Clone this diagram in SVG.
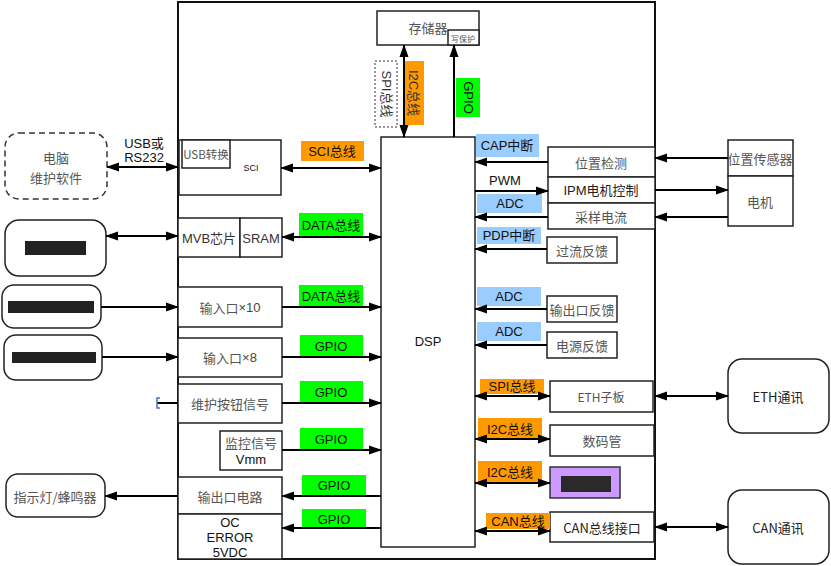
<svg xmlns="http://www.w3.org/2000/svg" width="831" height="566" viewBox="0 0 831 566">
<style>
.b{fill:#fff;stroke:#222;stroke-width:1.5}
.rb{fill:#fff;stroke:#222;stroke-width:1.5}
.c{stroke:#000;stroke-width:2;fill:none}
.cn{font-family:"Noto Sans CJK SC","Liberation Sans",sans-serif;font-size:13px;fill:#555;text-anchor:middle;dominant-baseline:central}
.la{font-family:"Liberation Sans","Noto Sans CJK SC",sans-serif;font-size:13px;fill:#111;text-anchor:middle;dominant-baseline:central}
.or{fill:#ff9900}
.gr{fill:#00ff00}
.bl{fill:#99ccff}
</style>
<defs>
<marker id="ah" markerUnits="userSpaceOnUse" markerWidth="13" markerHeight="10" refX="12" refY="5" orient="auto-start-reverse" viewBox="0 0 13 10">
<path d="M0,0.5 L13,5 L0,9.5 z" fill="#000"/>
</marker>
</defs>
<rect width="831" height="566" fill="#fff"/>

<g id="frame"><rect x="178" y="2" width="477" height="557" fill="none" stroke="#111" stroke-width="2"/></g>

<g id="memory">
<rect class="b" x="377" y="11" width="102" height="34"/>
<text class="cn" x="428" y="27">存储器</text>
<rect class="b" x="448" y="30" width="31" height="15"/>
<text class="cn" x="463" y="38" style="font-size:8px">写保护</text>
</g>

<g id="dsp">
<rect class="b" x="381" y="137" width="94" height="410"/>
<text class="la" x="428" y="341">DSP</text>
</g>

<g id="pc">
<rect x="5" y="133" width="102" height="66" rx="14" fill="#fff" stroke="#333" stroke-width="1.5" stroke-dasharray="6,4"/>
<text class="cn" x="56" y="157">电脑</text>
<text class="cn" x="56" y="177">维护软件</text>
</g>

<g id="sci">
<rect class="b" x="179" y="140" width="102" height="55"/>
<rect class="b" x="182" y="140" width="48" height="28"/>
<text class="cn" x="206" y="154" style="font-size:11.5px">USB转换</text>
<text class="la" x="251" y="168" style="font-size:9px">SCI</text>
</g>

<g id="mvb">
<rect class="b" x="178" y="218" width="62" height="39"/>
<rect class="b" x="240" y="218" width="42" height="39"/>
<text class="la" x="209" y="238" style="fill:#333">MVB芯片</text>
<text class="la" x="261" y="238" style="fill:#333">SRAM</text>
</g>

<g id="ext1">
<rect class="rb" x="5" y="220" width="101" height="56" rx="14"/>
<rect x="25" y="241" width="61" height="14" fill="#222"/>
</g>
<g id="ext2">
<rect class="rb" x="2" y="285" width="99" height="43" rx="12"/>
<rect x="8" y="301" width="86" height="12" fill="#222"/>
</g>
<g id="ext3">
<rect class="rb" x="4" y="335" width="98" height="45" rx="12"/>
<rect x="12" y="352" width="84" height="11" fill="#222"/>
</g>

<g id="in10"><rect class="b" x="178" y="287" width="104" height="40"/><text class="cn" x="230" y="307"><tspan>输入口</tspan><tspan style="font-family:'Liberation Sans',sans-serif;fill:#444">×10</tspan></text></g>
<g id="in8"><rect class="b" x="178" y="338" width="104" height="39"/><text class="cn" x="230" y="357"><tspan>输入口</tspan><tspan style="font-family:'Liberation Sans',sans-serif;fill:#444">×8</tspan></text></g>
<g id="btn"><rect class="b" x="178" y="384" width="104" height="39"/><text class="cn" x="230" y="403">维护按钮信号</text></g>
<g id="mon"><rect class="b" x="220" y="431" width="62" height="39"/><text class="cn" x="251" y="442">监控信号</text><text class="la" x="251" y="459">Vmm</text></g>
<g id="out"><rect class="b" x="178" y="477" width="104" height="37"/><text class="cn" x="230" y="496">输出口电路</text></g>
<g id="oc"><rect class="b" x="178" y="514" width="104" height="45"/><text class="la" x="230" y="522">OC</text><text class="la" x="230" y="537">ERROR</text><text class="la" x="230" y="552">5VDC</text></g>
<g id="lamp"><rect class="rb" x="6" y="474" width="99" height="43" rx="12"/><text class="cn" x="55" y="496">指示灯/蜂鸣器</text></g>

<g id="pos"><rect class="b" x="548" y="147" width="107" height="30"/><text class="cn" x="601" y="162">位置检测</text></g>
<g id="ipm"><rect class="b" x="548" y="177" width="107" height="26"/><text class="la" x="601" y="190" style="fill:#222">IPM电机控制</text></g>
<g id="samp"><rect class="b" x="548" y="203" width="107" height="26"/><text class="cn" x="601" y="216">采样电流</text></g>
<g id="oc2"><rect class="b" x="547" y="237" width="70" height="26"/><text class="cn" x="582" y="250">过流反馈</text></g>
<g id="sensor"><rect class="b" x="728" y="140" width="65" height="36"/><text class="cn" x="760" y="158">位置传感器</text></g>
<g id="motor"><rect class="b" x="728" y="176" width="65" height="50"/><text class="cn" x="760" y="201">电机</text></g>
<g id="outfb"><rect class="b" x="547" y="296" width="70" height="26"/><text class="cn" x="582" y="309">输出口反馈</text></g>
<g id="pwrfb"><rect class="b" x="547" y="332" width="70" height="26"/><text class="cn" x="582" y="345">电源反馈</text></g>
<g id="eth"><rect class="b" x="550" y="381" width="103" height="31"/><text class="cn" x="601" y="396" style="font-size:12px">ETH子板</text></g>
<g id="ethc"><rect class="rb" x="728" y="359" width="101" height="74" rx="14"/><text class="cn" x="778" y="396" style="fill:#222">ETH通讯</text></g>
<g id="led"><rect class="b" x="550" y="425" width="104" height="31"/><text class="cn" x="602" y="440">数码管</text></g>
<g id="disp"><rect x="550" y="467" width="70" height="31" fill="#cc99ff" stroke="#333" stroke-width="1.5"/><rect x="561" y="476" width="50" height="16" fill="#2a2a2a"/></g>
<g id="can"><rect class="b" x="550" y="512" width="104" height="30"/><text class="cn" x="602" y="527" style="fill:#222">CAN总线接口</text></g>
<g id="canc"><rect class="rb" x="728" y="490" width="101" height="74" rx="14"/><text class="cn" x="778" y="527" style="fill:#222">CAN通讯</text></g>

<g id="labels">
<rect x="375" y="61" width="22" height="66" fill="#fff" stroke="#333" stroke-width="1" stroke-dasharray="2,2"/>
<text class="la" transform="translate(386,94) rotate(90)" style="fill:#333">SPI总线</text>
<rect class="or" x="403" y="61" width="21" height="64"/>
<text class="la" transform="translate(413.5,93) rotate(90)" style="fill:#333">I2C总线</text>
<rect class="gr" x="456" y="78" width="24" height="39"/>
<text class="la" transform="translate(468,97.5) rotate(90)">GPIO</text>

<rect class="or" x="301" y="141" width="63" height="20"/><text class="la" x="332" y="151">SCI总线</text>
<rect class="gr" x="299" y="213" width="64" height="24"/><text class="la" x="331" y="225">DATA总线</text>
<rect class="gr" x="299" y="285" width="64" height="22"/><text class="la" x="331" y="296">DATA总线</text>
<rect class="gr" x="300" y="335" width="63" height="22"/><text class="la" x="331" y="346">GPIO</text>
<rect class="gr" x="300" y="381" width="63" height="22"/><text class="la" x="331" y="392">GPIO</text>
<rect class="gr" x="300" y="428" width="63" height="22"/><text class="la" x="331" y="439">GPIO</text>
<rect class="gr" x="302" y="475" width="64" height="20"/><text class="la" x="334" y="485">GPIO</text>
<rect class="gr" x="302" y="509" width="64" height="20"/><text class="la" x="334" y="519">GPIO</text>

<rect class="bl" x="476" y="134" width="63" height="23"/><text class="la" x="507" y="145.5">CAP中断</text>
<text class="la" x="505" y="180">PWM</text>
<rect class="bl" x="477" y="194" width="65" height="19"/><text class="la" x="510" y="203">ADC</text>
<rect class="bl" x="477" y="227" width="64" height="17"/><text class="la" x="509" y="235.5">PDP中断</text>
<rect class="bl" x="477" y="287" width="64" height="19"/><text class="la" x="509" y="296.5">ADC</text>
<rect class="bl" x="477" y="322" width="64" height="19"/><text class="la" x="509" y="331">ADC</text>
<rect class="or" x="480" y="379" width="64" height="15"/><text class="la" x="512" y="386.5">SPI总线</text>
<rect class="or" x="478" y="418" width="64" height="22"/><text class="la" x="510" y="429">I2C总线</text>
<rect class="or" x="478" y="461" width="64" height="22"/><text class="la" x="510" y="472">I2C总线</text>
<rect class="or" x="486" y="513" width="64" height="16"/><text class="la" x="518" y="521">CAN总线</text>

<text class="la" x="144" y="143">USB或</text>
<text class="la" x="144" y="157">RS232</text>
</g>

<g id="connectors">
<line class="c" x1="404" y1="45" x2="404" y2="137" marker-start="url(#ah)" marker-end="url(#ah)"/>
<line class="c" x1="454" y1="137" x2="454" y2="45" marker-end="url(#ah)"/>
<line class="c" x1="107" y1="167" x2="178" y2="167" marker-start="url(#ah)" marker-end="url(#ah)"/>
<line class="c" x1="281" y1="168" x2="381" y2="168" marker-start="url(#ah)" marker-end="url(#ah)"/>
<line class="c" x1="106" y1="236" x2="178" y2="236" marker-start="url(#ah)" marker-end="url(#ah)"/>
<line class="c" x1="282" y1="237" x2="381" y2="237" marker-start="url(#ah)" marker-end="url(#ah)"/>
<line class="c" x1="101" y1="307" x2="178" y2="307" marker-end="url(#ah)"/>
<line class="c" x1="282" y1="307" x2="381" y2="307" marker-end="url(#ah)"/>
<line class="c" x1="102" y1="357" x2="178" y2="357" marker-end="url(#ah)"/>
<line class="c" x1="282" y1="357" x2="381" y2="357" marker-end="url(#ah)"/>
<line class="c" x1="157" y1="403" x2="178" y2="403"/>
<path d="M160,398 L157,398 L157,408 L160,408" fill="none" stroke="#4472c4" stroke-width="1.5"/>
<line class="c" x1="282" y1="403" x2="381" y2="403" marker-end="url(#ah)"/>
<line class="c" x1="282" y1="450" x2="381" y2="450" marker-end="url(#ah)"/>
<line class="c" x1="381" y1="496" x2="282" y2="496" marker-end="url(#ah)"/>
<line class="c" x1="381" y1="528" x2="282" y2="528" marker-end="url(#ah)"/>
<line class="c" x1="178" y1="496" x2="105" y2="496" marker-end="url(#ah)"/>

<line class="c" x1="548" y1="162" x2="475" y2="162" marker-end="url(#ah)"/>
<line class="c" x1="475" y1="191" x2="548" y2="191" marker-end="url(#ah)"/>
<line class="c" x1="548" y1="217" x2="475" y2="217" marker-end="url(#ah)"/>
<line class="c" x1="547" y1="249" x2="475" y2="249" marker-end="url(#ah)"/>
<line class="c" x1="728" y1="158" x2="655" y2="158" marker-end="url(#ah)"/>
<line class="c" x1="655" y1="190" x2="728" y2="190" marker-end="url(#ah)"/>
<line class="c" x1="728" y1="217" x2="655" y2="217" marker-end="url(#ah)"/>
<line class="c" x1="547" y1="309" x2="475" y2="309" marker-end="url(#ah)"/>
<line class="c" x1="547" y1="345" x2="475" y2="345" marker-end="url(#ah)"/>
<line class="c" x1="475" y1="396" x2="550" y2="396" marker-start="url(#ah)" marker-end="url(#ah)"/>
<line class="c" x1="655" y1="396" x2="728" y2="396" marker-start="url(#ah)" marker-end="url(#ah)"/>
<line class="c" x1="475" y1="439" x2="550" y2="439" marker-start="url(#ah)" marker-end="url(#ah)"/>
<line class="c" x1="475" y1="483" x2="550" y2="483" marker-start="url(#ah)" marker-end="url(#ah)"/>
<line class="c" x1="475" y1="531" x2="550" y2="531" marker-start="url(#ah)" marker-end="url(#ah)"/>
<line class="c" x1="655" y1="527" x2="728" y2="527" marker-start="url(#ah)" marker-end="url(#ah)"/>
</g>
</svg>
